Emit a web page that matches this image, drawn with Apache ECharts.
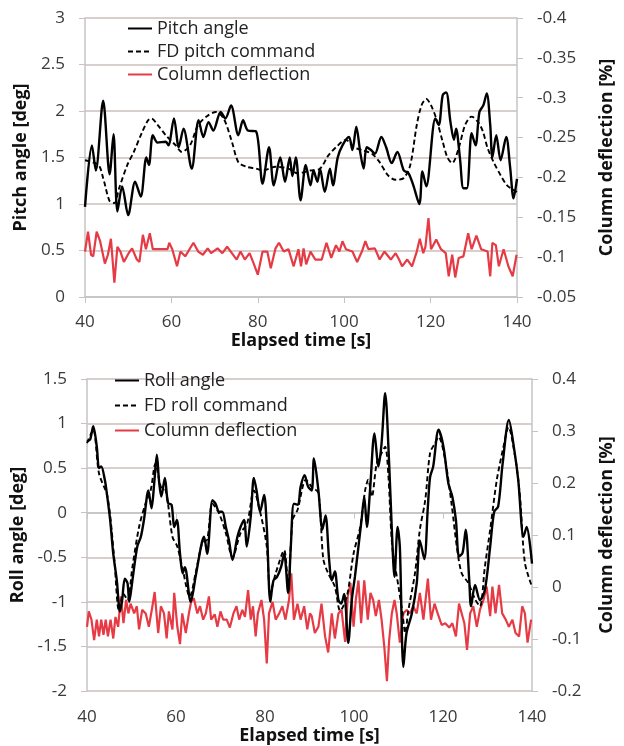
<!DOCTYPE html>
<html>
<head>
<meta charset="utf-8">
<script src="https://cdn.jsdelivr.net/npm/echarts@6/dist/echarts.min.js"></script>
<style>html,body{margin:0;padding:0;background:#fff}#c{width:624px;height:746px}</style>
</head>
<body>
<div id="c"></div>
<script>
// ---- Top chart data: [time s, value] ----
var pitchAngle = [[40,0.97],[41.6,1.63],[42.5,1.36],[44.2,2.11],[45.7,1.32],[46.6,1.75],[47.5,0.92],[48.6,1.19],[50.0,0.88],[51.6,1.24],[52.9,1.08],[54.2,1.5],[54.8,1.42],[55.7,1.74],[56.8,1.66],[58.7,1.67],[59.3,1.63],[60.6,1.92],[61.7,1.61],[62.8,1.81],[64.7,1.38],[66.3,1.9],[67.4,1.72],[68.6,1.88],[69.7,1.79],[71.4,1.99],[72.5,1.92],[73.8,2.06],[75.5,1.74],[76.6,1.9],[77.7,1.79],[79.6,1.78],[81.1,1.22],[82.6,1.61],[83.7,1.2],[85.2,1.5],[86.3,1.24],[87.4,1.5],[88.0,1.3],[88.8,1.5],[89.9,1.04],[91.1,1.42],[92.2,1.2],[92.9,1.36],[93.8,1.24],[94.4,1.38],[95.5,1.13],[96.7,1.38],[97.4,1.2],[98.5,1.5],[99.6,1.63],[101.1,1.72],[101.9,1.58],[102.8,1.83],[103.7,1.56],[104.5,1.38],[105.2,1.61],[106.2,1.58],[107.1,1.54],[108.6,1.72],[109.7,1.61],[111.0,1.44],[112.3,1.56],[113.8,1.36],[114.9,1.33],[116.0,1.2],[117.4,1.0],[118.1,1.35],[119.0,1.19],[121.1,1.92],[121.9,1.85],[122.8,2.17],[123.6,2.2],[124.6,1.88],[125.4,1.69],[125.9,1.81],[126.8,1.49],[127.6,1.17],[128.4,1.17],[129.5,1.76],[130.4,1.63],[131.3,1.99],[132.2,2.06],[133.0,2.19],[133.8,1.85],[134.3,1.5],[135.2,1.74],[136.2,1.47],[137.5,1.72],[138.4,1.4],[139.2,1.06],[140,1.27]];
var fdPitch = [[40,1.47],[43.1,1.42],[44.2,1.28],[45.7,1.03],[46.8,1.01],[47.9,1.17],[49.8,1.42],[51.3,1.56],[53.1,1.76],[54.6,1.9],[55.4,1.92],[56.8,1.85],[58.7,1.74],[61.0,1.63],[62.4,1.56],[64.3,1.63],[66.2,1.85],[68.4,1.95],[70.3,1.99],[72.1,1.92],[74.0,1.67],[75.5,1.45],[77.4,1.4],[79.6,1.38],[81.1,1.36],[84.1,1.4],[87.1,1.38],[89.2,1.33],[92.2,1.36],[94.4,1.38],[96.3,1.52],[98.1,1.61],[100.4,1.69],[102.2,1.61],[104.1,1.58],[106.4,1.54],[108.2,1.45],[110.1,1.31],[111.9,1.26],[113.8,1.28],[115.3,1.42],[116.8,1.85],[117.9,2.06],[119.0,2.13],[120.1,2.06],[121.3,1.92],[122.8,1.67],[123.9,1.5],[125.0,1.44],[126.5,1.6],[128.0,1.85],[129.5,1.94],[131.0,1.88],[132.1,1.78],[133.2,1.6],[134.7,1.44],[136.2,1.31],[137.7,1.2],[139.2,1.15],[140,1.13]];
var columnPitch = [[40,-0.107],[40.7,-0.132],[41.4,-0.103],[41.9,-0.101],[42.7,-0.132],[43.5,-0.120],[44.6,-0.092],[45.3,-0.103],[46.0,-0.123],[46.8,-0.068],[47.5,-0.113],[48.2,-0.107],[49.0,-0.094],[50.1,-0.105],[50.9,-0.111],[52.0,-0.097],[52.6,-0.094],[53.4,-0.128],[54.1,-0.110],[55.0,-0.130],[55.7,-0.110],[59.1,-0.110],[59.5,-0.118],[60.2,-0.110],[61.3,-0.0885],[62.1,-0.107],[63.2,-0.101],[65.1,-0.118],[66.2,-0.107],[67.3,-0.103],[68.4,-0.111],[69.2,-0.105],[70.7,-0.111],[71.8,-0.105],[72.9,-0.113],[74.0,-0.105],[75.1,-0.097],[76.0,-0.107],[77.0,-0.097],[78.1,-0.105],[78.9,-0.094],[80.0,-0.078],[81.1,-0.107],[82.2,-0.107],[83.0,-0.086],[84.1,-0.111],[84.9,-0.118],[86.0,-0.107],[87.1,-0.110],[88.3,-0.0885],[89.4,-0.110],[90.0,-0.0885],[90.6,-0.111],[91.2,-0.091],[92.2,-0.107],[93.3,-0.097],[94.8,-0.097],[95.9,-0.118],[97.0,-0.099],[98.1,-0.115],[98.9,-0.107],[99.6,-0.120],[100.4,-0.110],[101.9,-0.107],[103.0,-0.094],[104.1,-0.107],[104.9,-0.120],[105.6,-0.110],[107.1,-0.111],[108.2,-0.097],[109.3,-0.107],[110.8,-0.097],[111.9,-0.105],[112.7,-0.097],[113.4,-0.0885],[114.6,-0.097],[115.7,-0.0885],[116.8,-0.107],[117.5,-0.123],[118.3,-0.105],[118.8,-0.113],[119.5,-0.149],[120.1,-0.110],[121.3,-0.122],[122.4,-0.110],[123.5,-0.105],[124.2,-0.076],[125.0,-0.103],[125.7,-0.0745],[126.5,-0.099],[127.6,-0.101],[128.7,-0.130],[129.5,-0.110],[130.6,-0.127],[131.7,-0.110],[133.2,-0.107],[133.8,-0.076],[134.3,-0.118],[135.1,-0.115],[135.8,-0.0885],[136.9,-0.110],[138.0,-0.0885],[139.0,-0.076],[139.9,-0.103]];

// ---- Bottom chart data ----
var rollAngle = [[40,0.80],[40.7,0.82],[41.4,0.97],[42.2,0.74],[42.7,0.5],[43.2,0.52],[44.0,0.37],[44.4,0.24],[45.2,-0.08],[45.9,-0.46],[46.7,-0.76],[47.4,-1.11],[47.9,-0.98],[48.5,-0.74],[49.1,-0.79],[49.5,-1.0],[50.2,-0.76],[51.3,-0.38],[52.1,-0.27],[52.8,-0.08],[53.8,0.25],[54.5,0.05],[55.1,0.33],[55.7,0.65],[56.2,0.35],[56.7,0.18],[57.5,0.39],[58.2,0.11],[59.0,0.09],[59.6,-0.16],[60.2,-0.08],[60.9,-0.46],[61.5,-0.68],[62.0,-0.61],[63.3,-1.0],[64.4,-0.72],[65.7,-0.36],[66.3,-0.27],[67.0,-0.46],[68.2,0.14],[68.9,0.1],[69.7,0.01],[70.4,0.01],[71.2,-0.16],[71.9,-0.31],[72.7,-0.53],[73.8,-0.27],[74.5,-0.16],[75.3,-0.08],[75.9,-0.38],[76.8,-0.04],[77.5,0.39],[78.1,0.25],[78.9,0.01],[79.8,0.2],[80.4,-0.16],[81.2,-1.0],[81.9,-0.76],[82.7,-0.72],[83.6,-0.61],[84.3,-0.46],[85.2,-0.9],[85.8,-0.38],[86.5,0.1],[87.4,0.09],[88.0,0.29],[88.9,0.42],[89.7,0.29],[90.5,0.25],[91.0,0.61],[92.0,0.25],[92.9,-0.19],[93.6,-0.03],[94.4,-0.52],[95.0,-0.76],[95.7,-0.66],[96.5,-0.98],[97.1,-1.02],[97.8,-0.91],[98.7,-1.46],[99.5,-0.98],[100.2,-0.72],[101.0,-0.38],[101.7,-0.08],[102.3,0.18],[102.9,-0.16],[103.6,0.25],[104.6,0.89],[105.5,0.52],[106.2,0.78],[107.0,1.34],[107.9,0.55],[108.5,-0.19],[109.1,-0.72],[109.8,-0.16],[110.3,-0.38],[111.1,-1.73],[111.8,-1.35],[113.0,-1.13],[114.1,-0.79],[114.8,-0.31],[115.8,-0.52],[116.6,0.07],[117.1,0.4],[117.8,0.52],[119.0,0.93],[120.1,0.74],[121.2,0.33],[122.1,0.18],[122.9,-0.08],[123.6,-0.49],[124.4,-0.45],[125.1,-0.19],[125.9,-0.76],[126.3,-1.05],[127.2,-0.81],[128.3,-0.98],[129.4,-0.87],[130.6,-0.38],[131.5,0.01],[132.4,0.07],[133.4,0.55],[134.8,1.04],[136.0,0.71],[136.9,0.37],[138.1,-0.27],[138.8,-0.16],[140,-0.57]];
var fdRoll = [[40,0.78],[41.4,0.93],[42.7,0.44],[44.6,0.18],[46.1,-0.5],[47.2,-1.1],[48.2,-0.91],[49.1,-0.98],[50.2,-0.61],[51.7,-0.16],[53.2,0.11],[54.3,0.25],[55.4,0.55],[56.6,0.29],[57.7,0.25],[59.2,-0.27],[60.3,-0.38],[61.4,-0.61],[63.1,-0.94],[64.4,-0.68],[65.9,-0.34],[67.0,-0.3],[68.2,0.1],[69.7,-0.01],[71.2,-0.23],[72.7,-0.5],[74.5,-0.23],[76.0,-0.12],[77.5,0.25],[79.0,-0.01],[80.4,-0.38],[81.2,-0.9],[82.4,-0.68],[84.3,-0.42],[85.2,-0.83],[86.2,-0.08],[87.3,0.03],[89.2,0.37],[90.5,0.29],[92.0,0.22],[93.1,-0.52],[94.2,-0.68],[95.7,-0.83],[96.9,-1.1],[98.4,-0.94],[99.9,-0.46],[101.4,-0.16],[102.5,0.25],[103.2,0.37],[104.0,0.18],[105.1,0.55],[106.2,0.67],[107.0,0.74],[107.7,0.44],[108.6,-0.38],[110.0,-0.83],[110.9,-1.13],[111.5,-1.35],[112.2,-1.1],[113.7,-0.68],[114.8,-0.19],[116.0,0.14],[117.1,0.67],[118.2,0.78],[119.0,0.85],[120.5,0.59],[122.0,0.07],[123.1,-0.38],[124.2,-0.68],[125.7,-0.79],[127.2,-0.97],[128.3,-1.05],[129.4,-0.61],[130.6,-0.19],[132.1,0.37],[133.6,0.74],[134.7,0.96],[136.2,0.63],[137.3,0.18],[138.4,-0.56],[140,-0.83]];
var columnRoll = [[40,-0.0765],[40.4,-0.047],[41.0,-0.0628],[41.6,-0.102],[42.2,-0.0628],[42.7,-0.095],[43.2,-0.0628],[43.7,-0.092],[44.2,-0.0628],[44.7,-0.095],[45.3,-0.0628],[45.9,-0.099],[46.4,-0.0576],[47.0,-0.0765],[47.6,-0.018],[48.2,-0.0696],[48.8,-0.025],[49.3,-0.0508],[49.8,-0.032],[50.6,-0.0508],[51.2,-0.037],[51.7,-0.0816],[52.4,-0.044],[53.2,-0.0508],[53.9,-0.0765],[54.7,-0.037],[55.2,-0.0096],[56.0,-0.0885],[56.6,-0.037],[57.3,-0.0508],[57.9,-0.099],[58.4,-0.047],[59.2,-0.0816],[59.6,-0.0114],[60.3,-0.0765],[60.9,-0.110],[61.4,-0.0508],[62.2,-0.0885],[62.9,-0.0508],[63.4,-0.0285],[64.0,-0.0216],[64.8,-0.0508],[65.4,-0.037],[66.1,-0.0628],[66.7,-0.0508],[67.4,-0.018],[67.9,-0.0628],[68.7,-0.0525],[69.3,-0.0765],[70.0,-0.047],[70.6,-0.0628],[71.4,-0.0628],[72.1,-0.078],[72.9,-0.0508],[73.6,-0.037],[74.2,-0.0628],[74.9,-0.044],[75.5,-0.0576],[76.2,-0.006],[76.8,-0.0628],[77.3,-0.037],[77.9,-0.095],[78.4,-0.0508],[79.2,-0.025],[79.8,-0.0628],[80.4,-0.147],[80.9,-0.0508],[81.7,-0.0285],[82.4,-0.0628],[83.2,-0.0508],[83.9,-0.037],[84.6,-0.0628],[85.4,-0.025],[85.9,0.0263],[86.5,-0.0628],[87.3,-0.032],[88.0,-0.0628],[88.8,-0.037],[89.5,-0.0816],[90.1,-0.0508],[90.5,-0.056],[91.2,-0.0885],[92.0,-0.0765],[92.7,-0.032],[93.5,-0.095],[94.2,-0.126],[95.0,-0.0508],[95.7,-0.099],[96.5,-0.0508],[97.2,-0.044],[98.0,-0.1056],[98.6,-0.018],[99.2,0.0075],[99.9,-0.0765],[100.4,-0.025],[101.0,0.0126],[101.6,-0.0696],[102.3,0.0126],[103.1,-0.0628],[103.7,-0.0114],[104.3,-0.025],[104.9,-0.056],[105.6,-0.025],[106.2,-0.0628],[106.8,-0.114],[107.4,-0.181],[107.9,-0.102],[108.5,-0.0508],[109.1,-0.025],[109.6,-0.0508],[110.3,-0.107],[111.1,-0.0508],[111.8,-0.044],[112.6,-0.0508],[113.3,-0.037],[114.1,-0.0508],[114.8,-0.0114],[115.6,-0.0628],[116.6,0.016],[117.3,-0.0628],[118.1,-0.032],[118.8,-0.0508],[119.7,-0.073],[120.5,-0.0696],[121.4,-0.078],[122.1,-0.0696],[122.9,-0.095],[123.6,-0.032],[124.2,-0.0508],[124.8,-0.0696],[125.4,-0.121],[126.1,-0.0508],[126.8,-0.037],[127.6,-0.0765],[128.3,-0.044],[129.1,-0.025],[129.8,0.0006],[130.6,-0.056],[131.1,0.0006],[131.8,-0.0508],[132.6,0.004],[133.3,-0.0508],[134.1,-0.0628],[134.8,-0.0765],[135.6,-0.0628],[136.3,-0.0885],[137.1,-0.095],[137.8,-0.037],[138.4,-0.0508],[139.0,-0.107],[139.8,-0.0628]];

// ---- Axis labels / names ----
var xName = 'Elapsed time [s]';
var pitchName = 'Pitch angle [deg]';
var rollName = 'Roll angle [deg]';
var colName = 'Column deflection [%]';
var topLegend = ['Pitch angle', 'FD pitch command', 'Column deflection'];
var botLegend = ['Roll angle', 'FD roll command', 'Column deflection'];

var FONT = 'Open Sans';
var GRID = '#cbbfbd';
var AXIS = '#c4c4c4';
var LABEL = '#3a3a3a';
var RED = '#e63b45';

function xAx(gi, margin, gap) {
  return {
    type: 'value', gridIndex: gi, min: 40, max: 140, interval: 20,
    name: xName, nameLocation: 'middle', nameGap: gap,
    nameTextStyle: {fontFamily: FONT, fontSize: 18, fontWeight: 'bold', color: '#111'},
    axisLine: {show: true, lineStyle: {color: AXIS, width: 1.5}},
    axisTick: {show: true, length: 6, lineStyle: {color: AXIS}},
    axisLabel: {fontFamily: FONT, fontSize: 17, color: LABEL, margin: margin},
    splitLine: {show: false}
  };
}
function yAx(gi, pos, min, max, interval, opts) {
  var o = {
    type: 'value', gridIndex: gi, position: pos, min: min, max: max, interval: interval,
    nameLocation: 'middle', nameRotate: 90,
    nameTextStyle: {fontFamily: FONT, fontSize: 18, fontWeight: 'bold', color: '#111'},
    axisLine: {show: true, lineStyle: {color: AXIS, width: 1.5}},
    axisTick: {show: true, length: 6, lineStyle: {color: AXIS}},
    axisLabel: {fontFamily: FONT, fontSize: 17, color: LABEL, margin: 20},
    splitLine: {show: false}
  };
  for (var k in opts) o[k] = opts[k];
  return o;
}
function line(name, xi, yi, data, color, width, type, smooth) {
  return {
    name: name, type: 'line', xAxisIndex: xi, yAxisIndex: yi, data: data,
    symbol: 'none', smooth: smooth, animation: false,
    lineStyle: {color: color, width: width, type: type},
    itemStyle: {color: color}
  };
}
function legend(data, left, top, lh) {
  return {
    data: data, orient: 'vertical', left: left, top: top,
    itemWidth: 24, itemHeight: 2, itemGap: 0,
    itemStyle: {opacity: 0},
    textStyle: {fontFamily: FONT, fontSize: 18, color: '#222', lineHeight: lh}
  };
}

var chart = echarts.init(document.getElementById('c'), null, {renderer: 'canvas'});
chart.setOption({
  backgroundColor: '#fff',
  animation: false,
  grid: [
    {left: 85, top: 18, width: 447, height: 279},
    {left: 87, top: 379, width: 445, height: 312}
  ],
  legend: [legend(topLegend, 122, 12, 23), legend(botLegend, 109, 363, 25)],
  xAxis: [xAx(0, 17, 33), xAx(1, 18, 34)],
  yAxis: [
    yAx(0, 'left', 0, 3, 0.5, {name: pitchName, nameGap: 52,
      splitLine: {show: true, lineStyle: {color: GRID, width: 1.5}}}),
    yAx(0, 'right', -0.4, -0.05, 0.05, {name: colName, nameGap: 81, inverse: true}),
    yAx(1, 'left', -2, 1.5, 0.5, {name: rollName, nameGap: 57,
      splitLine: {show: true, lineStyle: {color: GRID, width: 1.5}}}),
    yAx(1, 'right', -0.2, 0.4, 0.1, {name: colName, nameGap: 66})
  ],
  series: [
    line('Column deflection', 0, 1, columnPitch, RED, 2.2, 'solid', false),
    line('FD pitch command', 0, 0, fdPitch, '#000', 1.9, [5, 3], 0.3),
    line('Pitch angle', 0, 0, pitchAngle, '#000', 2.4, 'solid', 0.3),
    line('Column deflection', 1, 3, columnRoll, RED, 2.2, 'solid', false),
    line('FD roll command', 1, 2, fdRoll, '#000', 1.9, [5, 3], 0.3),
    line('Roll angle', 1, 2, rollAngle, '#000', 2.4, 'solid', 0.3)
  ]
});
</script>
</body>
</html>
